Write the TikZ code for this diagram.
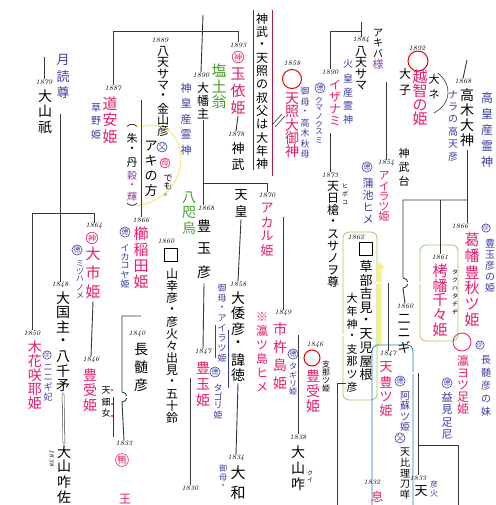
\documentclass[tikz,border=0pt]{standalone}
\usepackage{fontspec}
\newfontfamily\jp{Noto Sans CJK JP}
\usetikzlibrary{arrows.meta, calc}
\definecolor{pinkred}{RGB}{232,28,110}
\definecolor{inkblue}{RGB}{58,62,160}
\definecolor{inkviolet}{RGB}{140,70,165}
\definecolor{leafgreen}{RGB}{70,160,40}
\definecolor{boxgreen}{RGB}{150,205,100}
\definecolor{boxblue}{RGB}{40,120,205}
\definecolor{linegray}{RGB}{55,55,55}
\definecolor{redline}{RGB}{170,30,70}
\definecolor{marker}{RGB}{248,240,110}
% vertical text: one box per character
\newcommand\vtpitch{12pt}
\newcommand\vt[1]{\vbox{\offinterlineskip\vtaux#1\relax}}
\newcommand\vtaux[1]{\ifx\relax#1\else\hbox to 1.1em{\hss\vbox to \vtpitch{\vss\hbox{#1}\vss}\hss}\expandafter\vtaux\fi}
\begin{document}
\begin{tikzpicture}[x=1pt, y=-1pt,
    vl/.style={inner sep=0pt, anchor=north},
    sz/.style={font=\jp\fontsize{#1}{#1}\selectfont},
    pit/.style={execute at begin node={\def\vtpitch{#1pt}}},
    yr/.style={inner sep=0pt, font=\fontsize{7}{7}\selectfont\itshape},
    pk/.style={color=pinkred}, bl/.style={color=inkblue}, gr/.style={color=leafgreen},
    circ/.style={circle, draw, inner sep=0.2pt, line width=0.6pt, font=\jp\fontsize{#1}{#1}\selectfont},
    ring/.style={circle, draw=red!90!black, line width=1pt, inner sep=0pt, minimum size=#1},
    ln/.style={draw=linegray, line width=0.9pt},
    dbl/.style={draw=linegray, line width=0.5pt, double=white, double distance=1.4pt},
    sq/.style={draw, line width=0.8pt, minimum size=13pt, inner sep=0pt}
]
\clip (0,0) rectangle (495,505);
\fill[white] (0,0) rectangle (495,505);

% top left
\node[yr] (yOyama) at (44,82) {1879};
\node[vl,sz=14,pit=15.5] (oyama) at (45,88) {\vt{大山祇}};
\node[vl,sz=13,pit=16,bl] (tsuku) at (63,52) {\vt{月読尊}};
\coordinate (tsukuTop) at (44,57);
\node[yr] (yMichi) at (113,88) {1887};
\node[vl,sz=15,pit=16.5,pk] (michi) at (110,95) {\vt{道安姫}};
\node[vl,sz=10,pit=14,bl] (kaya) at (96,100) {\vt{草野姫}};
\node[yr] (yHatten) at (160,40) {1889};
\node[vl,sz=12,pit=11.5] (hatten) at (163,45) {\vt{八天サマ・金山彦}};
\node[yr] (yOhata) at (201,75) {1890};
\node[vl,sz=12,pit=13] (ohata) at (203,81) {\vt{大幡主}};
\coordinate (ohataTop) at (203,15);
\node[vl,sz=11,pit=15.5,bl] (kamimu) at (186,80) {\vt{神皇産霊神}};
\node[vl,sz=15,pit=16,gr] (shio) at (219,62) {\vt{塩土翁}};
\node[yr] (yTama) at (238,45) {1893};
\node[circ=8,pk] (cTama) at (238,57) {神};
\node[vl,sz=15,pit=16.5,pk] (tama) at (238,66) {\vt{玉依姫}};
\node[yr] (yJinmu) at (236,134) {1878};
\node[vl,sz=13,pit=16] (jinmu) at (238,140) {\vt{神武}};
\node[vl,sz=13,pit=16] (tenno) at (241,187) {\vt{天皇}};

% red bars and the note between them
\draw[linegray, line width=1pt] (253,10) -- (253,170);
\draw[redline, line width=1pt] (272,10) -- (272,176);
\node[vl,sz=12,pit=13.2] (oji) at (262,12) {\vt{神武・天照の叔父は大年神}};
\draw[linegray, line width=0.6pt] (272,125) -- (282,114) (275,127) -- (285,116);

% amaterasu, izanami
\node[yr] (yAma) at (292,63) {1858};
\node[ring=19] (rAma) at (292,79) {};
\node[vl,sz=14,pit=13,pk] (ama) at (292,92) {\vt{天照大御神}};
\node[vl,sz=9,pit=10.5,bl] (amaHaha) at (305,86) {\vt{御母・高木秋母}};
\node[yr] (yIza) at (330,72) {1890};
\node[vl,sz=12,pit=12,pk] (iza) at (335,79) {\vt{イザナミ}};
\node[circ=7,bl] at (320,88) {徳};
\node[vl,sz=8,pit=8,bl] (kumano) at (319,96) {\vt{クマノクスミ}};
\node[yr] (yHatR) at (361,40) {1884};
\node[vl,sz=12,pit=11.5] (hatR) at (361,45) {\vt{八天サマ}};
\node[vl,sz=10,pit=14,bl] (hikami) at (348,57) {\vt{火皇産霊神}};
\node[vl,sz=10,pit=10] (akiba) at (378,28) {\vt{アキバ}};
\node[vl,sz=11,pit=12,color=inkviolet] (sama) at (378,58) {\vt{様}};
\coordinate (izaBar) at (0,31);

% ochi, takagi
\node[yr] (yOchi) at (417,48) {1892};
\node[ring=20] (rOchi) at (418,61) {};
\node[vl,sz=15,pit=14,pk] (ochi) at (420,70) {\vt{越智の姫}};
\node[vl,sz=12,pit=17] (ochiL) at (405,65) {\vt{大子}};
\node[vl,sz=11,pit=15] (ochiR) at (434,72) {\vt{大ネ}};
\draw[linegray, line width=0.6pt] (438,73) .. controls (452,85) and (452,103) .. (434,113);
\coordinate (ochiBar) at (0,82);
\node[yr] (yTaka) at (463,81) {1868};
\node[vl,sz=14,pit=15] (taka) at (467,87) {\vt{高木大神}};
\coordinate (takaTop) at (467,60);
\node[vl,sz=10,pit=12.5,bl] (nara) at (453,88) {\vt{ナラの高天彦}};
\node[vl,sz=12,pit=16,bl] (takami) at (487,90) {\vt{高皇産霊神}};
\node[vl,sz=11,pit=14] (jdai) at (404,146) {\vt{神武台}};
\node[yr] (yAira) at (386,163) {1854};
\node[circ=7,bl] at (367,167) {徳};
\node[vl,sz=11,pit=10,pk] (aira) at (384,171) {\vt{アイラツ姫}};
\node[vl,sz=11,pit=12,bl] (kama) at (368,177) {\vt{蒲池ヒメ}};

% right column
\node[yr] (yKatsu) at (460,226) {1866};
\node[vl,sz=15,pit=16,pk] (katsu) at (472,232) {\vt{葛幡豊秋ツ姫}};
\node[circ=6,bl] at (486,228) {@};
\node[vl,sz=10,pit=11,bl] (tkhime) at (490,238) {\vt{豊玉彦の姫}};
\coordinate (niniBar) at (403,200);
\coordinate (niniHop) at (403,278);
\node[yr] (yTakuha) at (440,257) {1861};
\node[vl,sz=15,pit=14.8,pk] (takuha) at (440,263) {\vt{栲幡千々姫}};
\node[vl,sz=6,pit=8] (takuKana) at (455,268) {\vt{タクハタチヂ}};
\draw[boxgreen, line width=0.8pt, rounded corners=6pt] (420,245) rectangle (458,341);
\node[yr] (yNinigi) at (405,306) {1860};
\node[vl,sz=13,pit=14] (ninigi) at (404,312) {\vt{二ニギ}};

% kusakabe box
\draw[boxgreen, line width=0.8pt, rounded corners=6pt] (343,232) rectangle (377,400);
\node[yr] (yKusa) at (356,237) {1862};
\node[sq] (sqKusa) at (366,249) {};
\node[vl,sz=13,pit=13.5] (kusa) at (366,260) {\vt{草部吉見・天児屋根}};
\node[vl,sz=11,pit=12.7] (toshi) at (352,292) {\vt{大年神・支那ツ彦}};
\coordinate (kusaBar) at (0,283);
\draw[marker, line width=3.5pt, opacity=0.85, -{Triangle[width=8pt,length=6pt]}] (380,345) -- (380,262);

% blue box
\draw[boxblue, line width=0.8pt, rounded corners=6pt] (372,345) rectangle (413,520);
\node[yr] (yTenho) at (388,354) {1847};
\node[vl,sz=13,pit=14.5,pk] (tenho) at (386,360) {\vt{天豊ツ姫}};
\node[circ=7,bl] at (400,381) {徳};
\node[vl,sz=10,pit=10.5,bl] (aso) at (405,390) {\vt{阿蘇ツ姫}};
\node[circ=7,bl] at (400,438) {父};
\node[vl,sz=10,pit=10.5] (hiri) at (405,447) {\vt{天比理刀咩}};
\coordinate (asoBar) at (0,373);
\coordinate (tenBar) at (0,445);
\coordinate (tenEnd) at (458,505);
\node[yr] (yTen) at (418,478) {1833};
\node[vl,sz=13,pit=14] (tenB) at (421,484) {\vt{天}};
\node[vl,sz=8,pit=9,bl] (hikoho) at (434,480) {\vt{彦火}};
\draw[pinkred, line width=0.8pt] (462,342) circle[radius=9];
\node[vl,sz=12,pit=12,pk] (mizo) at (463,355) {\vt{瀛ヨツ足姫}};
\node[circ=6,bl] at (480,345) {@};
\node[vl,sz=10,pit=13,bl] (nagaimo) at (486,353) {\vt{長髄彦の妹}};
\node[circ=7,bl] at (447,383) {徳};
\node[vl,sz=11,pit=12.5,bl] (masumi) at (447,391) {\vt{益見足尼}};

% middle
\node[yr] (yHiboko) at (330,175) {1873};
\node[vl,sz=12,pit=12] (hiboko) at (333,180) {\vt{天日槍・スサノヲ尊}};
\node[vl,sz=6,pit=8] at (345,182) {\vt{ヒボコ}};
\coordinate (ichiBar) at (0,217);
\node[yr] (yAkaru) at (267,195) {1870};
\node[vl,sz=13,pit=14,pk] (akaru) at (267,201) {\vt{アカル姫}};
\coordinate (akaruBar) at (0,183);
\node[yr] (yIchiki) at (283,313) {1849};
\node[vl,sz=14,pit=18,pk] (ichiki) at (280,320) {\vt{市杵島姫}};
\node[circ=7,bl] at (293,354) {徳};
\node[vl,sz=8,pit=8.5,bl] (tagiri) at (293,362) {\vt{タギリ姫}};
\node[vl,sz=12,pit=14,pk] (oki) at (262,310) {\vt{※瀛ツ島ヒメ}};
\coordinate (yamaBar) at (0,335);
\node[yr] (yUke) at (315,345) {1846};
\node[ring=16] at (312,358) {};
\node[vl,sz=14,pit=15,pk] (ukeR) at (313,368) {\vt{豊受姫}};
\node[vl,sz=8,pit=8] (shinaH) at (326,360) {\vt{支那ツ姫}};
\node[yr] (yKui) at (298,437) {1838};
\node[vl,sz=14,pit=16] (kuiR) at (298,444) {\vt{大山咋}};
\node[vl,sz=6,pit=7] at (310,470) {\vt{クイ}};
\coordinate (shinaJ) at (337,383);
\coordinate (okiEnd) at (337,505);
\node[yr] (yOki) at (372,482) {1832};
\node[vl,sz=12,pit=14,pk] at (377,490) {\vt{息}};

% left middle
\node[yr] (yKushi) at (141,220) {1866};
\node[vl,sz=15,pit=16,pk] (kushi) at (141,226) {\vt{櫛稲田姫}};
\node[circ=7,bl] at (125,232) {徳};
\node[vl,sz=9,pit=9,bl] (ikako) at (125,243) {\vt{イカコヤ姫}};
\coordinate (hatBar) at (0,100);
\node[vl,sz=11,pit=12] (shu) at (132,120) {\vt{︵朱・丹}};
\node[vl,sz=10,pit=10.5,color=inkviolet] (koku) at (132,170) {\vt{穀・輝}};
\node[vl,sz=11,pit=11] (shuEnd) at (132,202) {\vt{︶}};
\node[vl,sz=13,pit=15] (aki) at (151,138) {\vt{アキの方}};
\node[circ=7,bl] at (162,147) {父};
\node[circ=7,pk] at (165,163) {母};
\node[vl,sz=9,pit=8] (demo) at (168,174) {\vt{でも。}};
\draw[marker!85!orange, line width=1.2pt, opacity=0.7] (140,127) .. controls (190,112) and (200,195) .. (137,206);
\node[vl,sz=14,pit=15,gr] (yata) at (189,190) {\vt{八咫烏}};
\node[yr] (yToyoH) at (206,208) {1868};
\node[vl,sz=14,pit=23] (toyoH) at (204,214) {\vt{豊玉彦}};
\node[yr] (yYama) at (166,241) {1860};
\node[sq] (sqYama) at (171,255) {};
\node[vl,sz=12,pit=12] (yamasachi) at (172,268) {\vt{山幸彦・彦火々出見・五十鈴}};
\node[yr] (yToyoHime) at (203,352) {1847};
\node[vl,sz=14,pit=16,pk] (toyoHime) at (203,360) {\vt{豊玉姫}};
\node[circ=7,bl] at (215,372) {徳};
\node[vl,sz=9,pit=9,bl] (tagori) at (218,383) {\vt{タゴリ姫}};
\draw[inkblue, line width=0.5pt] (215,325) -- (215,358) (228,330) -- (228,388);
\coordinate (futoBar) at (0,378);
\node[yr] (yFuto) at (190,488) {1830};
\node[yr] (yYamato) at (238,284) {1858};
\node[vl,sz=14,pit=15.5] (yamato) at (238,290) {\vt{大倭彦・諱徳}};
\node[vl,sz=9,pit=10,bl] (yHaha) at (222,283) {\vt{御母・アイラツ姫}};
\node[yr] (yYamatoW) at (236,458) {1834};
\node[vl,sz=15,pit=20] (yamatoW) at (238,463) {\vt{大和}};
\node[vl,sz=8,pit=9,bl] at (223,464) {\vt{御母・}};

% left
\coordinate (oyamaBar) at (0,114);
\node[yr] (yKuni) at (60,285) {1848};
\node[vl,sz=14,pit=14.5] (kuni) at (63,291) {\vt{大国主・八千矛}};
\coordinate (sakuBar) at (0,213);
\node[yr] (yOichi) at (94,226) {1864};
\node[circ=8,pk] at (92,238) {神};
\node[vl,sz=15,pit=19,pk] (oichi) at (93,244) {\vt{大市姫}};
\node[circ=7,bl] at (77,250) {徳};
\node[vl,sz=8,pit=8,bl] (mizuha) at (80,259) {\vt{ミヅハノメ}};
\node[yr] (ySaku) at (32,333) {1850};
\node[vl,sz=14,pit=14,pk] (saku) at (35,340) {\vt{木花咲耶姫}};
\node[circ=6,bl] at (47,355) {@};
\node[vl,sz=9,pit=10,bl] (sakuN) at (48,362) {\vt{ニニギ妃}};
\node[yr] (yUkeL) at (91,360) {1846};
\node[vl,sz=14,pit=15,pk] (ukeL) at (90,367) {\vt{豊受姫}};
\node[vl,sz=9,pit=11] (uzume) at (106,385) {\vt{天鈿女}};
\fill[pinkred] (112,390) circle[radius=1.1] (112,404) circle[radius=1.1] (112,416) circle[radius=1.1];
\coordinate (nagaBar) at (0,397);
\coordinate (nagaDrop) at (113,437);
\coordinate (kamoJ) at (122,316);
\coordinate (kamoHop) at (122,392);
\node[yr] (yKamo) at (124,443) {1833};
\node[circ=9,pk] (cKamo) at (122,460) {鴨};
\node[vl,sz=12,pit=14,pk] at (125,492) {\vt{王}};
\node[yr] (yNaga) at (137,334) {1840};
\node[vl,sz=14,pit=18] (naga) at (141,340) {\vt{長髄彦}};
\node[yr, rotate=-90] (yKuiL) at (52,458) {1838};
\node[vl,sz=14,pit=15] (kuiL) at (64,444) {\vt{大山咋佐}};

% connectors
\draw[ln] (tsukuTop) -- (yOyama.north);
\draw[dbl] (oyama.east |- oyamaBar) -- (kaya.west |- oyamaBar);
\draw[ln] (yKuni.north |- oyamaBar) -- (yKuni.north);
\draw[ln] (ySaku.north) |- (yOichi.north |- sakuBar) -- (yOichi.north);
\draw[ln] (oichi.south) -- (yUkeL.north);
\draw[ln] (yMichi.north) |- (yTama.north |- izaBar) -- (yTama.north);
\draw[ln] (ohataTop) -- (yOhata.north);
\draw[ln] (ohata.south) -- (ohata.south |- yToyoH.north);
\draw[ln] (ohata.south |- akaruBar) -| (yAkaru.north);
\draw[ln] (tama.south) -- (yJinmu.north);
\draw[ln] (tenno.south) -- (yYamato.north);
\draw[ln] (yamato.south) -- (yYamatoW.north);
\draw[dbl] (michi.east |- hatBar) -- (hatten.west |- hatBar);
\draw[ln] (yKushi.north |- hatBar) -- (yKushi.north);
\draw[dbl] (kushi.south) -- (kushi.south |- kamoJ);
\draw[ln] (kushi.south |- kamoJ) -- (kamoJ) -- (kamoHop) arc[start angle=-90, end angle=90, radius=5] -- (yKamo.north);
\draw[dbl] (ukeL.east |- nagaBar) -- (yamasachi.west |- nagaBar);
\draw[ln] (nagaDrop |- nagaBar) -- (nagaDrop);
\draw[dbl] (kuni.south) -- (kuiL.north);
\draw[ln] (toyoH.south) -- (yToyoHime.north);
\draw[dbl] (yamasachi.east |- futoBar) -- (toyoHime.west |- futoBar);
\draw[ln] (yFuto.north |- futoBar) -- (yFuto.north);
\draw[ln] (yIza.north) |- (yHatR.north |- izaBar) -- (yHatR.north);
\draw[ln] (yHatR.north |- izaBar) -- ++(0,-9);
\draw[ln] (yHiboko.north |- iza.south) ++(0,6) -- (yHiboko.north);
\draw[dbl] (hatR.east |- ochiBar) -- (ochiL.west |- ochiBar);
\draw[ln] (yAira.north |- ochiBar) -- (yAira.north);
\draw[ln] (takaTop) -- (yTaka.north);
\draw[ln] (taka.south) ++(0,3) -- (taka.south |- yKatsu.north);
\draw[ln] (taka.south |- niniBar) -- (niniBar) -- (niniHop) arc[start angle=-90, end angle=90, radius=5] -- (yNinigi.north);
\draw[ln] (yTakuha.north |- niniBar) -- (yTakuha.north);
\draw[dbl] (kusa.east |- kusaBar) -- (takuha.west |- kusaBar);
\draw[ln] (yTenho.north |- kusaBar) -- (yTenho.north);
\draw[dbl] (tenho.east |- asoBar) -- (yTen.north |- asoBar);
\draw[ln] (yTen.north |- asoBar) -- (yTen.north);
\draw[ln] (yTen.north |- tenBar) -| (tenEnd);
\draw[dbl] (yIchiki.north |- ichiBar) -- (hiboko.west |- ichiBar);
\draw[ln] (yIchiki.north |- ichiBar) -- (yIchiki.north);
\draw[dbl] (ichiki.east |- yamaBar) -- (toshi.west |- yamaBar);
\draw[ln] (yKui.north |- yamaBar) -- (yKui.north);
\draw[ln] (toshi.west |- shinaJ) -- (shinaJ) -- (okiEnd);
\end{tikzpicture}
\end{document}
